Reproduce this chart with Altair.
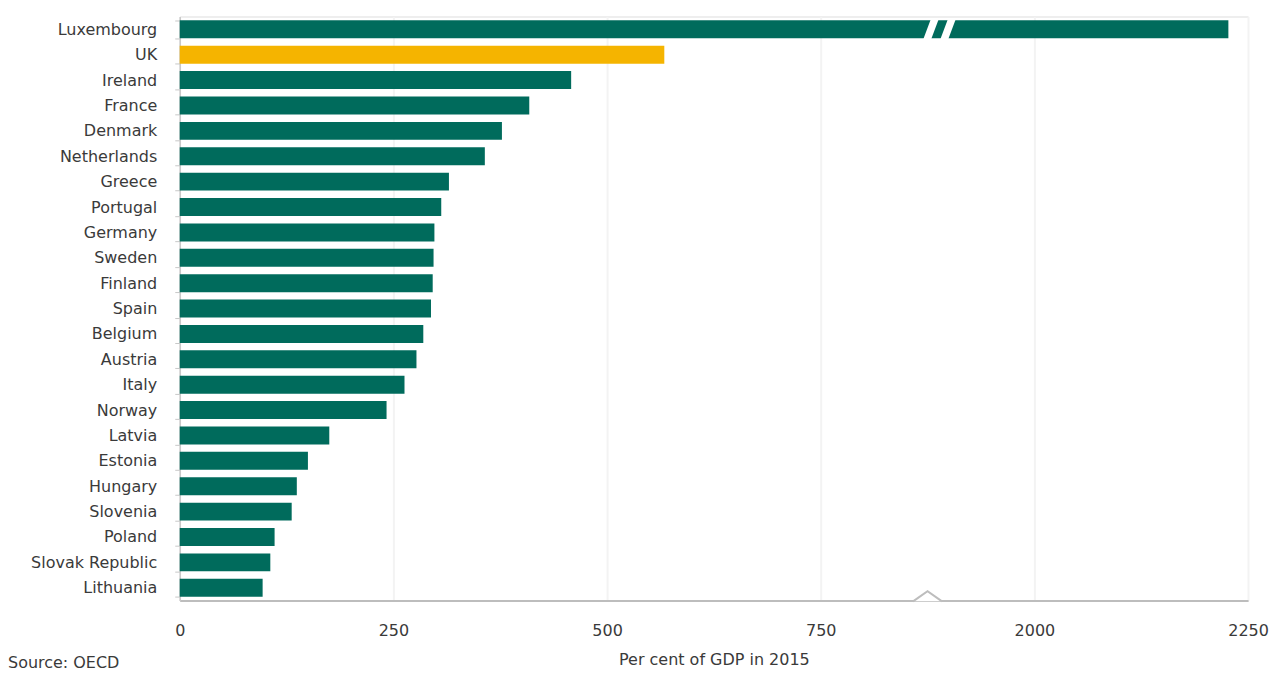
import altair as alt
import pandas as pd

countries = ["Luxembourg", "UK", "Ireland", "France", "Denmark", "Netherlands",
             "Greece", "Portugal", "Germany", "Sweden", "Finland", "Spain",
             "Belgium", "Austria", "Italy", "Norway", "Latvia", "Estonia",
             "Hungary", "Slovenia", "Poland", "Slovak Republic", "Lithuania"]
values = [2227, 567, 458, 409, 377, 357, 315, 306, 298, 297, 296, 294,
          285, 277, 263, 242, 175, 150, 137, 131, 111, 106, 97]
highlight = ["UK"]

# broken axis: values above the break are shifted down by this amount
axis_break = 875
break_shift = 1000
tick_values = [0, 250, 500, 750, 1000, 1250]
tick_labels = ["0", "250", "500", "750", "2000", "2250"]
bar_break_marks = [879, 899]

FONT = "DejaVu Sans"
TXT = "#3a3a3a"
GREEN = "#006b5c"
YELLOW = "#f5b400"
W, H = 1070, 585

df = pd.DataFrame({"country": countries, "value": values})
df["display"] = [v - break_shift if v > axis_break else v for v in values]
df["hl"] = ["y" if c in highlight else "n" for c in countries]

label_expr = "{" + ",".join(f"'{t}':'{l}'" for t, l in zip(tick_values, tick_labels)) + "}[datum.value]"

bars = alt.Chart(df).mark_bar(size=18).encode(
    y=alt.Y("country:N", sort=countries, title=None,
            scale=alt.Scale(paddingInner=0.29, paddingOuter=0.15),
            axis=alt.Axis(labelFont=FONT, labelFontSize=16, labelColor=TXT,
                          labelPadding=18, tickBand="extent", tickSize=5,
                          tickColor="#c8c8c8", domainColor="#c8c8c8",
                          domainWidth=1.5, minExtent=172, maxExtent=172,
                          labelLimit=170)),
    x=alt.X("display:Q", title="Per cent of GDP in 2015",
            scale=alt.Scale(domain=[0, 1250], nice=False),
            axis=alt.Axis(values=tick_values, labelExpr=label_expr,
                          labelFlush=False,
                          labelFont=FONT, labelFontSize=16, labelColor=TXT,
                          labelPadding=22, ticks=False, domainColor="#bdbdbd",
                          domainWidth=2, gridColor="#f3f3f3", gridWidth=2,
                          titleFont=FONT, titleFontSize=16, titleColor=TXT,
                          titleFontWeight="normal", titlePadding=13)),
    color=alt.Color("hl:N", scale=alt.Scale(domain=["n", "y"], range=[GREEN, YELLOW]),
                    legend=None),
)

brk_df = pd.DataFrame({"country": ["Luxembourg"] * len(bar_break_marks),
                       "display": bar_break_marks})
slashes = alt.Chart(brk_df).mark_point(
    shape="M-0.75,1L0.0,1L0.75,-1L0.0,-1Z", size=441, filled=True,
    fill="white", opacity=1, strokeWidth=0
).encode(x="display:Q", y=alt.Y("country:N", sort=countries))

chev_df = pd.DataFrame({"display": [axis_break]})
chevron = alt.Chart(chev_df).mark_point(
    shape="M-1,0.05L0,-0.65L1,0.05", size=841, filled=False, fill="white",
    fillOpacity=1, stroke="#bdbdbd", strokeWidth=2, opacity=1
).encode(x="display:Q", y=alt.value(H))

source = alt.Chart(chev_df).mark_text(
    text="Source: OECD", font=FONT, fontSize=16, color=TXT, align="left",
    baseline="middle"
).encode(x=alt.value(-172), y=alt.value(H + 63))

chart = alt.layer(bars, slashes, chevron, source).properties(
    width=W, height=H, padding=0
).configure_view(stroke=None).configure(background="white")

chart.save("out.html", embed_options={"renderer": "svg", "actions": False})
